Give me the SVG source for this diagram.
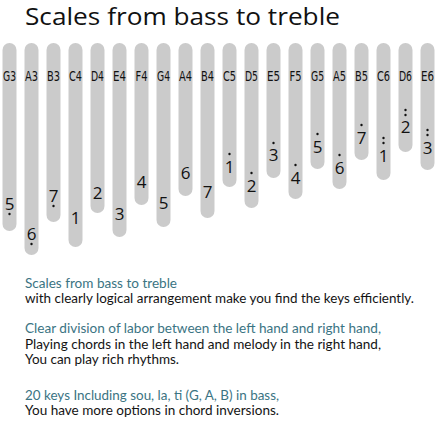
<svg xmlns="http://www.w3.org/2000/svg" width="437" height="423" viewBox="0 0 437 423">
<style>
.key{fill:#cbcbcb}
.lbl{font-family:"DejaVu Sans Condensed","DejaVu Sans",sans-serif;font-stretch:condensed;font-size:13.5px;fill:#111;text-anchor:middle}
.num{font-family:"Open Sans","Noto Sans",sans-serif;font-size:17px;fill:#111;text-anchor:middle}
.dot{fill:#111}
.title{font-family:"Open Sans","Noto Sans",sans-serif;font-size:24px;fill:#111}
.t1{font-family:Lato,"Open Sans",sans-serif;font-size:12.5px;fill:#3b7483}
.t2{font-family:Lato,"Open Sans",sans-serif;font-size:12.5px;fill:#141414}
</style>
<rect width="437" height="423" fill="#ffffff"/>
<text class="title" x="25" y="25" textLength="315" lengthAdjust="spacingAndGlyphs">Scales from bass to treble</text>
<g id="key-G3"><rect class="key" x="2.5" y="43" width="14" height="188" rx="7"/><text class="lbl" x="9.5" y="81" textLength="13" lengthAdjust="spacingAndGlyphs">G3</text><text class="num" x="9.5" y="210">5</text><circle class="dot" cx="9.5" cy="214" r="1.2"/></g>
<g id="key-A3"><rect class="key" x="24.5" y="43" width="14" height="212" rx="7"/><text class="lbl" x="31.5" y="81" textLength="13" lengthAdjust="spacingAndGlyphs">A3</text><text class="num" x="31.5" y="240">6</text><circle class="dot" cx="31.5" cy="244" r="1.2"/></g>
<g id="key-B3"><rect class="key" x="46.5" y="43" width="14" height="179" rx="7"/><text class="lbl" x="53.5" y="81" textLength="13" lengthAdjust="spacingAndGlyphs">B3</text><text class="num" x="53.5" y="202">7</text><circle class="dot" cx="53.5" cy="206" r="1.2"/></g>
<g id="key-C4"><rect class="key" x="68.5" y="43" width="14" height="204" rx="7"/><text class="lbl" x="75.5" y="81" textLength="13" lengthAdjust="spacingAndGlyphs">C4</text><text class="num" x="75.5" y="224">1</text></g>
<g id="key-D4"><rect class="key" x="90.5" y="43" width="14" height="170" rx="7"/><text class="lbl" x="97.5" y="81" textLength="13" lengthAdjust="spacingAndGlyphs">D4</text><text class="num" x="97.5" y="199">2</text></g>
<g id="key-E4"><rect class="key" x="112.5" y="43" width="14" height="194" rx="7"/><text class="lbl" x="119.5" y="81" textLength="13" lengthAdjust="spacingAndGlyphs">E4</text><text class="num" x="119.5" y="220">3</text></g>
<g id="key-F4"><rect class="key" x="134.5" y="43" width="14" height="162" rx="7"/><text class="lbl" x="141.5" y="81" textLength="12" lengthAdjust="spacingAndGlyphs">F4</text><text class="num" x="141.5" y="188">4</text></g>
<g id="key-G4"><rect class="key" x="156.5" y="43" width="14" height="184" rx="7"/><text class="lbl" x="163.5" y="81" textLength="13" lengthAdjust="spacingAndGlyphs">G4</text><text class="num" x="163.5" y="209">5</text></g>
<g id="key-A4"><rect class="key" x="178.5" y="43" width="14" height="153" rx="7"/><text class="lbl" x="185.5" y="81" textLength="13" lengthAdjust="spacingAndGlyphs">A4</text><text class="num" x="185.5" y="179">6</text></g>
<g id="key-B4"><rect class="key" x="200.5" y="43" width="14" height="175" rx="7"/><text class="lbl" x="207.5" y="81" textLength="13" lengthAdjust="spacingAndGlyphs">B4</text><text class="num" x="207.5" y="198">7</text></g>
<g id="key-C5"><rect class="key" x="222.5" y="43" width="14" height="144" rx="7"/><text class="lbl" x="229.5" y="81" textLength="13" lengthAdjust="spacingAndGlyphs">C5</text><text class="num" x="229.5" y="173">1</text><circle class="dot" cx="229.5" cy="154" r="1.2"/></g>
<g id="key-D5"><rect class="key" x="244.5" y="43" width="14" height="165" rx="7"/><text class="lbl" x="251.5" y="81" textLength="13" lengthAdjust="spacingAndGlyphs">D5</text><text class="num" x="251.5" y="192">2</text><circle class="dot" cx="251.5" cy="173" r="1.2"/></g>
<g id="key-E5"><rect class="key" x="266.5" y="43" width="14" height="135" rx="7"/><text class="lbl" x="273.5" y="81" textLength="13" lengthAdjust="spacingAndGlyphs">E5</text><text class="num" x="273.5" y="161">3</text><circle class="dot" cx="273.5" cy="143" r="1.2"/></g>
<g id="key-F5"><rect class="key" x="288.5" y="43" width="14" height="156" rx="7"/><text class="lbl" x="295.5" y="81" textLength="12" lengthAdjust="spacingAndGlyphs">F5</text><text class="num" x="295.5" y="184">4</text><circle class="dot" cx="295.5" cy="165" r="1.2"/></g>
<g id="key-G5"><rect class="key" x="310.5" y="43" width="14" height="126" rx="7"/><text class="lbl" x="317.5" y="81" textLength="13" lengthAdjust="spacingAndGlyphs">G5</text><text class="num" x="317.5" y="153">5</text><circle class="dot" cx="317.5" cy="134" r="1.2"/></g>
<g id="key-A5"><rect class="key" x="332.5" y="43" width="14" height="146" rx="7"/><text class="lbl" x="339.5" y="81" textLength="13" lengthAdjust="spacingAndGlyphs">A5</text><text class="num" x="339.5" y="174">6</text><circle class="dot" cx="339.5" cy="155" r="1.2"/></g>
<g id="key-B5"><rect class="key" x="354.5" y="43" width="14" height="117" rx="7"/><text class="lbl" x="361.5" y="81" textLength="13" lengthAdjust="spacingAndGlyphs">B5</text><text class="num" x="361.5" y="144">7</text><circle class="dot" cx="361.5" cy="125" r="1.2"/></g>
<g id="key-C6"><rect class="key" x="376.5" y="43" width="14" height="137" rx="7"/><text class="lbl" x="383.5" y="81" textLength="13" lengthAdjust="spacingAndGlyphs">C6</text><text class="num" x="383.5" y="162">1</text><circle class="dot" cx="383.5" cy="138" r="1.2"/><circle class="dot" cx="383.5" cy="143" r="1.2"/></g>
<g id="key-D6"><rect class="key" x="398.5" y="43" width="14" height="109" rx="7"/><text class="lbl" x="405.5" y="81" textLength="13" lengthAdjust="spacingAndGlyphs">D6</text><text class="num" x="405.5" y="133">2</text><circle class="dot" cx="405.5" cy="110" r="1.2"/><circle class="dot" cx="405.5" cy="115" r="1.2"/></g>
<g id="key-E6"><rect class="key" x="420.5" y="43" width="14" height="127" rx="7"/><text class="lbl" x="427.5" y="81" textLength="13" lengthAdjust="spacingAndGlyphs">E6</text><text class="num" x="427.5" y="154">3</text><circle class="dot" cx="427.5" cy="130" r="1.2"/><circle class="dot" cx="427.5" cy="135" r="1.2"/></g>
<g id="connectors"/>
<g id="description">
<text class="t1" x="25" y="288" textLength="152" lengthAdjust="spacingAndGlyphs">Scales from bass to treble</text>
<text class="t2" x="25" y="303" textLength="389" lengthAdjust="spacingAndGlyphs">with clearly logical arrangement make you find the keys efficiently.</text>
<text class="t1" x="25" y="333" textLength="356" lengthAdjust="spacingAndGlyphs">Clear division of labor between the left hand and right hand,</text>
<text class="t2" x="25" y="349" textLength="356" lengthAdjust="spacingAndGlyphs">Playing chords in the left hand and melody in the right hand,</text>
<text class="t2" x="25" y="364" textLength="154" lengthAdjust="spacingAndGlyphs">You can play rich rhythms.</text>
<text class="t1" x="25" y="400" textLength="254" lengthAdjust="spacingAndGlyphs">20 keys Including sou, la, ti (G, A, B) in bass,</text>
<text class="t2" x="25" y="415" textLength="254" lengthAdjust="spacingAndGlyphs">You have more options in chord inversions.</text>
</g>
</svg>
